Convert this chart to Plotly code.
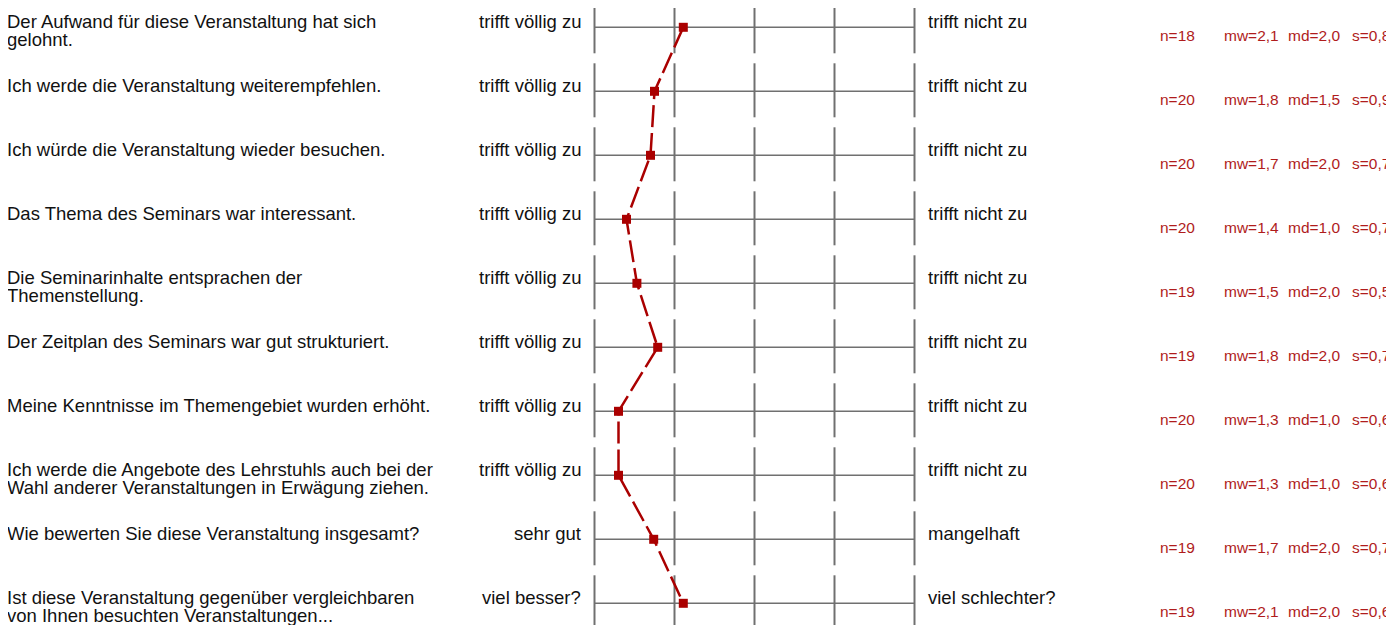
import plotly.graph_objects as go

# ---- data ----
questions = [
    ["Der Aufwand für diese Veranstaltung hat sich", "gelohnt."],
    ["Ich werde die Veranstaltung weiterempfehlen."],
    ["Ich würde die Veranstaltung wieder besuchen."],
    ["Das Thema des Seminars war interessant."],
    ["Die Seminarinhalte entsprachen der", "Themenstellung."],
    ["Der Zeitplan des Seminars war gut strukturiert."],
    ["Meine Kenntnisse im Themengebiet wurden erhöht."],
    ["Ich werde die Angebote des Lehrstuhls auch bei der", "Wahl anderer Veranstaltungen in Erwägung ziehen."],
    ["Wie bewerten Sie diese Veranstaltung insgesamt?"],
    ["Ist diese Veranstaltung gegenüber vergleichbaren", "von Ihnen besuchten Veranstaltungen..."],
]
left_labels = ["trifft völlig zu"] * 8 + ["sehr gut", "viel besser?"]
right_labels = ["trifft nicht zu"] * 8 + ["mangelhaft", "viel schlechter?"]
means = [2.11, 1.75, 1.70, 1.40, 1.53, 1.79, 1.30, 1.30, 1.74, 2.11]
n_vals = [18, 20, 20, 20, 19, 19, 20, 20, 19, 19]
mw_vals = ["2,1", "1,8", "1,7", "1,4", "1,5", "1,8", "1,3", "1,3", "1,7", "2,1"]
md_vals = ["2,0", "1,5", "2,0", "1,0", "2,0", "2,0", "1,0", "1,0", "2,0", "2,0"]
s_vals = ["0,8", "0,9", "0,7", "0,7", "0,5", "0,7", "0,6", "0,6", "0,7", "0,6"]
scale_ticks = [1, 2, 3, 4, 5]

# page has an 8px body margin; figure is sized to fill the rest of the window
OFF = 8
W, H = 1394 - OFF, 625 - OFF
rows = list(range(len(questions)))

FONT = "Liberation Sans, Arial, sans-serif"
FS = 18.5
GRID = "#707070"
RED = "#aa0000"
STAT = "#b01c1c"

# pixel mapping (figure pixels): x=1 -> 586.5 px, 80 px / unit; row i -> 19.3 + 64 i px
px_per_unit = 80.0
x1_px = 594.5 - OFF
xr = [1 - x1_px / px_per_unit, 1 + (W - x1_px) / px_per_unit]
row_px = 64.0
y0_px = 27.3 - OFF
yr = [(H - y0_px) / row_px, -y0_px / row_px]


def px(page_x):
    return (page_x - OFF) / W


fig = go.Figure()

shapes = []
for i in rows:
    shapes.append(dict(type="line", xref="x", yref="y", x0=scale_ticks[0], x1=scale_ticks[-1],
                       y0=i, y1=i, line=dict(color=GRID, width=1.5), layer="below"))
    for t in scale_ticks:
        shapes.append(dict(type="line", xref="x", yref="y", x0=t, x1=t,
                           y0=i - 28 / row_px, y1=i + 26 / row_px,
                           line=dict(color=GRID, width=2), layer="below"))

fig.add_trace(go.Scatter(
    x=means, y=rows, mode="lines+markers",
    line=dict(color=RED, width=2.5, dash="22px,6px"),
    marker=dict(symbol="square", size=9, color=RED),
    hoverinfo="skip", showlegend=False,
))

ann = []
for i in rows:
    for k, line in enumerate(questions[i]):
        ann.append(dict(xref="paper", yref="y", x=px(7), y=i, yshift=5.5 - 18 * k,
                        xanchor="left", yanchor="middle", text=line, showarrow=False,
                        borderpad=0, xshift=-1,
                        font=dict(family=FONT, size=FS, color="#111111")))
    ann.append(dict(xref="paper", yref="y", x=px(581), y=i, yshift=5.5, xshift=2,
                    xanchor="right", yanchor="middle", text=left_labels[i], showarrow=False,
                    font=dict(family=FONT, size=FS, color="#111111")))
    ann.append(dict(xref="paper", yref="y", x=px(928), y=i, yshift=5.5, xshift=-2,
                    xanchor="left", yanchor="middle", text=right_labels[i], showarrow=False,
                    font=dict(family=FONT, size=FS, color="#111111")))
    stats = [("n=%d" % n_vals[i], 1160), ("mw=" + mw_vals[i], 1224),
             ("md=" + md_vals[i], 1288), ("s=" + s_vals[i], 1352)]
    for txt, xp in stats:
        ann.append(dict(xref="paper", yref="y", x=px(xp), y=i, yshift=-8, xshift=-2,
                        xanchor="left", yanchor="middle", text=txt, showarrow=False,
                        font=dict(family=FONT, size=15.5, color=STAT)))

fig.update_layout(
    width=W, height=H,
    margin=dict(l=0, r=0, t=0, b=0),
    paper_bgcolor="white", plot_bgcolor="white",
    xaxis=dict(range=xr, visible=False, fixedrange=True),
    yaxis=dict(range=yr, visible=False, fixedrange=True),
    shapes=shapes, annotations=ann, showlegend=False,
)

fig.write_html("out.html")
